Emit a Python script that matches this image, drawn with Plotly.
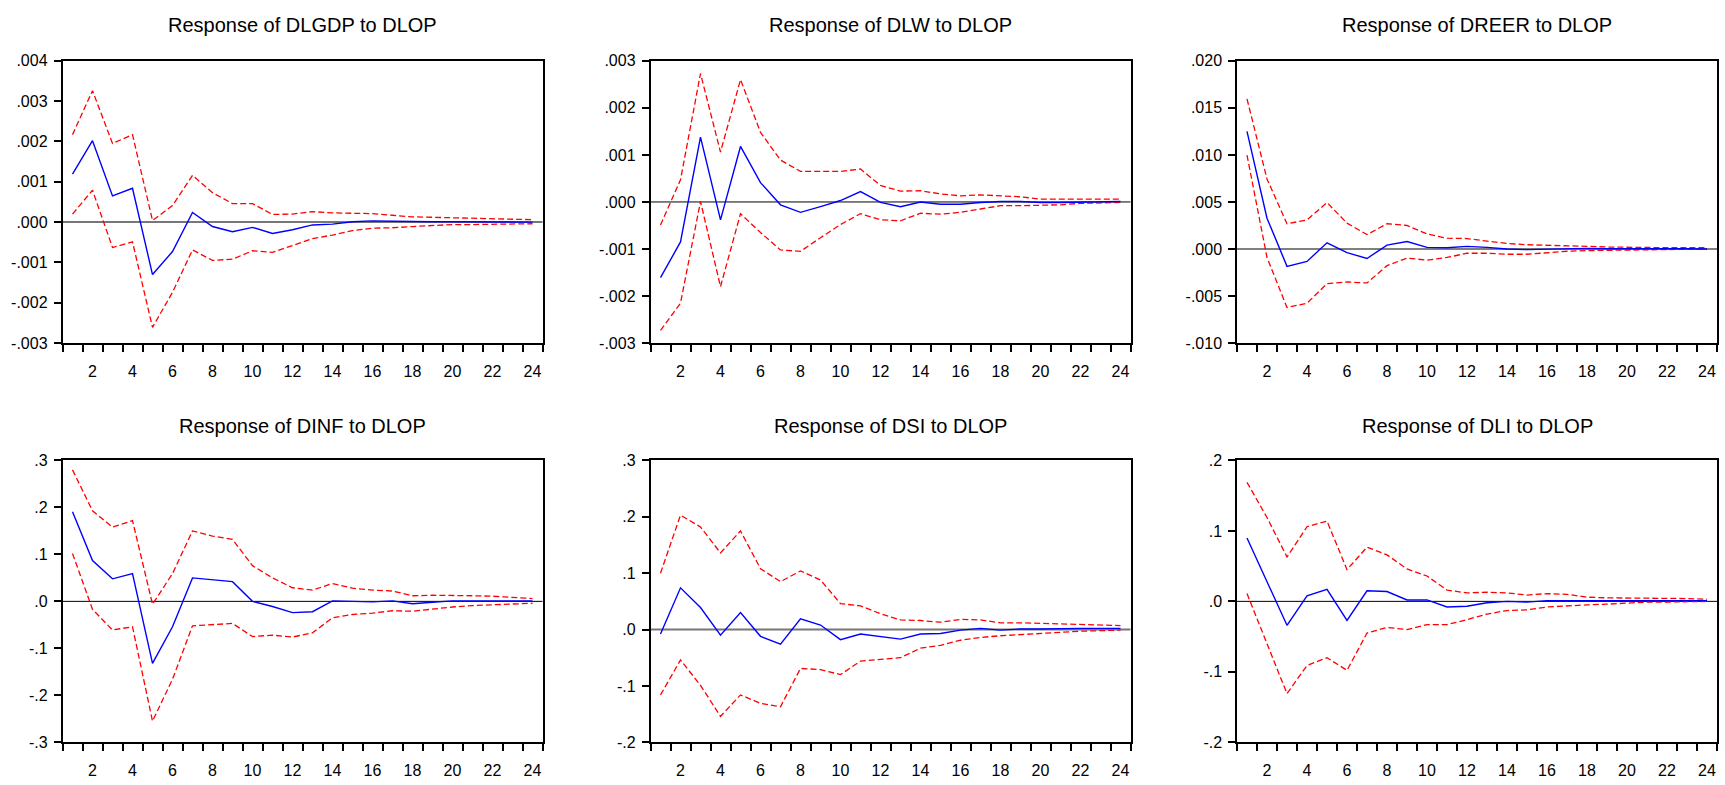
import plotly.graph_objects as go

periods = list(range(1, 25))

titles = ["Response of DLGDP to DLOP", "Response of DLW to DLOP", "Response of DREER to DLOP",
          "Response of DINF to DLOP", "Response of DSI to DLOP", "Response of DLI to DLOP"]

# DLGDP (x0.001)
dlgdp_irf = [1.19, 2.02, 0.65, 0.84, -1.30, -0.73, 0.24, -0.11, -0.24, -0.13, -0.28, -0.19,
             -0.07, -0.05, 0.01, 0.03, 0.02, 0.01, 0.01, 0.01, 0.01, 0.005, 0.005, 0.0]
dlgdp_up = [2.17, 3.26, 1.95, 2.17, 0.04, 0.41, 1.16, 0.73, 0.46, 0.46, 0.19, 0.20,
            0.26, 0.23, 0.22, 0.21, 0.17, 0.13, 0.12, 0.11, 0.10, 0.09, 0.07, 0.06]
dlgdp_lo = [0.20, 0.79, -0.63, -0.49, -2.61, -1.74, -0.69, -0.95, -0.92, -0.71, -0.75, -0.58,
            -0.41, -0.32, -0.21, -0.15, -0.14, -0.11, -0.09, -0.06, -0.06, -0.05, -0.04, -0.04]

# DLW (x0.001)
dlw_irf = [-1.61, -0.85, 1.38, -0.38, 1.18, 0.41, -0.06, -0.22, -0.10, 0.03, 0.22, -0.01,
           -0.10, 0.0, -0.05, -0.05, -0.01, 0.01, 0.01, -0.01, -0.01, 0.0, 0.01, 0.01]
dlw_up = [-0.49, 0.47, 2.73, 1.06, 2.60, 1.48, 0.89, 0.65, 0.65, 0.65, 0.70, 0.35,
          0.23, 0.24, 0.17, 0.13, 0.15, 0.13, 0.11, 0.06, 0.06, 0.06, 0.06, 0.06]
dlw_lo = [-2.73, -2.15, 0.01, -1.80, -0.25, -0.65, -1.02, -1.05, -0.76, -0.48, -0.25, -0.38,
          -0.40, -0.24, -0.26, -0.22, -0.15, -0.08, -0.08, -0.07, -0.06, -0.03, -0.02, -0.01]

# DREER (x0.001)
dreer_irf = [12.5, 3.27, -1.84, -1.32, 0.66, -0.38, -1.01, 0.42, 0.80, 0.17, 0.14, 0.28,
             0.17, 0.0, -0.07, -0.03, 0.03, 0.07, 0.03, 0.0, 0.0, 0.02, 0.02, 0.0]
dreer_up = [15.95, 7.44, 2.68, 3.09, 4.94, 2.75, 1.53, 2.68, 2.50, 1.60, 1.15, 1.11,
            0.83, 0.59, 0.45, 0.42, 0.38, 0.28, 0.21, 0.17, 0.17, 0.14, 0.14, 0.14]
dreer_lo = [9.98, -0.90, -6.22, -5.77, -3.68, -3.51, -3.61, -1.77, -0.97, -1.18, -0.90, -0.45,
            -0.45, -0.56, -0.56, -0.38, -0.24, -0.17, -0.14, -0.07, -0.03, -0.03, 0.0, 0.0]

# DINF
dinf_irf = [0.191, 0.087, 0.048, 0.059, -0.132, -0.054, 0.050, 0.046, 0.042, 0.0, -0.011, -0.024,
            -0.022, 0.001, 0.0, -0.001, 0.001, -0.005, -0.002, 0.001, 0.001, 0.001, 0.001, 0.001]
dinf_up = [0.280, 0.193, 0.158, 0.172, -0.006, 0.059, 0.150, 0.139, 0.132, 0.076, 0.050, 0.029,
           0.024, 0.038, 0.028, 0.024, 0.022, 0.012, 0.013, 0.013, 0.012, 0.011, 0.009, 0.006]
dinf_lo = [0.102, -0.017, -0.061, -0.054, -0.255, -0.166, -0.052, -0.049, -0.047, -0.075, -0.072, -0.076,
           -0.067, -0.035, -0.028, -0.025, -0.020, -0.021, -0.016, -0.012, -0.009, -0.007, -0.006, -0.004]

# DSI
dsi_irf = [-0.008, 0.074, 0.039, -0.010, 0.030, -0.012, -0.026, 0.019, 0.008, -0.018, -0.008, -0.013,
           -0.017, -0.008, -0.007, -0.001, 0.002, -0.001, 0.001, 0.001, 0.002, 0.002, 0.002, 0.002]
dsi_up = [0.100, 0.203, 0.182, 0.136, 0.175, 0.108, 0.085, 0.104, 0.088, 0.046, 0.042, 0.028,
          0.017, 0.016, 0.013, 0.018, 0.017, 0.012, 0.012, 0.011, 0.010, 0.009, 0.008, 0.007]
dsi_lo = [-0.116, -0.054, -0.099, -0.154, -0.116, -0.131, -0.137, -0.069, -0.071, -0.080, -0.056, -0.053,
          -0.050, -0.033, -0.028, -0.019, -0.014, -0.011, -0.009, -0.006, -0.005, -0.003, -0.002, -0.001]

# DLI
dli_irf = [0.090, 0.029, -0.034, 0.008, 0.017, -0.027, 0.015, 0.014, 0.002, 0.002, -0.008, -0.007,
           -0.002, 0.0, -0.001, 0.001, 0.001, 0.0, 0.0, 0.0, 0.001, 0.001, 0.001, 0.001]
dli_up = [0.169, 0.119, 0.063, 0.106, 0.114, 0.045, 0.077, 0.066, 0.046, 0.036, 0.016, 0.012,
          0.013, 0.012, 0.009, 0.011, 0.010, 0.006, 0.005, 0.005, 0.005, 0.004, 0.004, 0.003]
dli_lo = [0.011, -0.061, -0.131, -0.091, -0.080, -0.098, -0.045, -0.037, -0.040, -0.033, -0.033, -0.026,
          -0.018, -0.013, -0.012, -0.008, -0.006, -0.005, -0.004, -0.002, -0.001, -0.001, -0.001, 0.0]

scale_milli = 0.001
series = [
    ([v * scale_milli for v in dlgdp_irf], [v * scale_milli for v in dlgdp_up], [v * scale_milli for v in dlgdp_lo]),
    ([v * scale_milli for v in dlw_irf], [v * scale_milli for v in dlw_up], [v * scale_milli for v in dlw_lo]),
    ([v * scale_milli for v in dreer_irf], [v * scale_milli for v in dreer_up], [v * scale_milli for v in dreer_lo]),
    (dinf_irf, dinf_up, dinf_lo),
    (dsi_irf, dsi_up, dsi_lo),
    (dli_irf, dli_up, dli_lo),
]

y_ticks = [
    ([-0.003, -0.002, -0.001, 0.0, 0.001, 0.002, 0.003, 0.004],
     ["-.003", "-.002", "-.001", ".000", ".001", ".002", ".003", ".004"]),
    ([-0.003, -0.002, -0.001, 0.0, 0.001, 0.002, 0.003],
     ["-.003", "-.002", "-.001", ".000", ".001", ".002", ".003"]),
    ([-0.010, -0.005, 0.0, 0.005, 0.010, 0.015, 0.020],
     ["-.010", "-.005", ".000", ".005", ".010", ".015", ".020"]),
    ([-0.3, -0.2, -0.1, 0.0, 0.1, 0.2, 0.3], ["-.3", "-.2", "-.1", ".0", ".1", ".2", ".3"]),
    ([-0.2, -0.1, 0.0, 0.1, 0.2, 0.3], ["-.2", "-.1", ".0", ".1", ".2", ".3"]),
    ([-0.2, -0.1, 0.0, 0.1, 0.2], ["-.2", "-.1", ".0", ".1", ".2"]),
]
zero_colors = ["#777777", "#000000", "#000000", "#000000", "#777777", "#000000"]
zero_widths = [2, 1, 1, 1, 2, 1]

x_tick_vals = list(range(2, 25, 2))
x_tick_text = [str(v) for v in x_tick_vals]
x_minor_vals = [v + 0.5 for v in range(0, 25)]

W, H = 1725, 785
col_px = [(62.5, 542.5), (650.5, 1130.5), (1237, 1717)]
row_px = [(54, 342.5), (462.5, 750.5)]
title_px = [17, 427]

font = "Liberation Sans, Arial, sans-serif"
fig = go.Figure()
layout = dict(width=W, height=H, margin=dict(l=0, r=0, t=0, b=0),
              paper_bgcolor="white", plot_bgcolor="white", showlegend=False,
              font=dict(family=font, color="black", size=16))
annotations = []
shapes = []

for i in range(6):
    r, c = divmod(i, 3)
    xa = "x" if i == 0 else f"x{i+1}"
    ya = "y" if i == 0 else f"y{i+1}"
    xk = "xaxis" if i == 0 else f"xaxis{i+1}"
    yk = "yaxis" if i == 0 else f"yaxis{i+1}"
    x0, x1 = col_px[c]
    y0, y1 = row_px[r]
    irf, up, lo = series[i]
    tv, tt = y_ticks[i]
    layout[xk] = dict(domain=[x0 / W, x1 / W], range=[0.5, 24.5], anchor=ya,
                      tickmode="array", tickvals=x_tick_vals, ticktext=x_tick_text,
                      ticks="outside", ticklen=7, tickcolor="rgba(0,0,0,0)",
                      ticklabelstandoff=6,
                      minor=dict(tickmode="array", tickvals=x_minor_vals, ticks="outside",
                                 ticklen=7, tickwidth=1.5, tickcolor="black", showgrid=False),
                      showgrid=False, zeroline=False, showline=True, mirror=True,
                      linecolor="black", linewidth=1.5, tickfont=dict(size=16))
    layout[yk] = dict(domain=[1 - y1 / H, 1 - y0 / H], range=[tv[0], tv[-1]], anchor=xa,
                      tickmode="array", tickvals=tv, ticktext=tt,
                      ticks="outside", ticklen=7, tickwidth=1.5, tickcolor="black",
                      ticklabelstandoff=3,
                      showgrid=False, zeroline=False, showline=True, mirror=True,
                      linecolor="black", linewidth=1.5, tickfont=dict(size=16))
    shapes.append(dict(type="line", xref=f"{xa} domain", yref=ya, x0=0, x1=1, y0=0, y1=0,
                       line=dict(color=zero_colors[i], width=zero_widths[i]), layer="below"))
    fig.add_trace(go.Scatter(x=periods, y=up, mode="lines", xaxis=xa, yaxis=ya,
                             line=dict(color="#FF0000", width=1.3, dash="6px,3px")))
    fig.add_trace(go.Scatter(x=periods, y=lo, mode="lines", xaxis=xa, yaxis=ya,
                             line=dict(color="#FF0000", width=1.3, dash="6px,3px")))
    fig.add_trace(go.Scatter(x=periods, y=irf, mode="lines", xaxis=xa, yaxis=ya,
                             line=dict(color="#0000FF", width=1.4)))
    annotations.append(dict(text=titles[i], xref="paper", yref="paper",
                            x=(x0 + x1) / 2 / W, y=1 - title_px[r] / H,
                            xanchor="center", yanchor="middle", showarrow=False,
                            font=dict(size=20, family=font, color="black")))

layout["annotations"] = annotations
layout["shapes"] = shapes
fig.update_layout(**layout)
fig.write_html("out.html")
